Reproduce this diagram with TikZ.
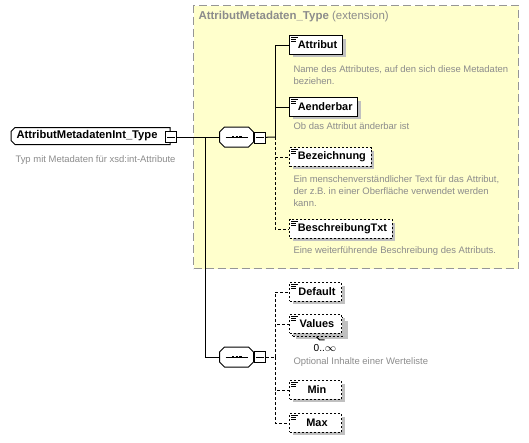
\documentclass[tikz,border=0pt]{standalone}
\usepackage{fontspec}
\setmainfont{Liberation Sans}
\usetikzlibrary{shadows,calc,positioning}

\definecolor{extfill}{RGB}{255,255,204}
\definecolor{extline}{RGB}{150,150,150}
\definecolor{doctext}{RGB}{140,140,140}
\definecolor{shadegray}{RGB}{192,192,192}

\newcommand{\docmark}[1]{%
  \draw[line width=0.75pt] ($(#1.north west)+(2,2.5)$) -- +(7,0)
    ($(#1.north west)+(2,4.5)$) -- +(5,0)
    ($(#1.north west)+(2,6.5)$) -- +(5,0);}
% octagon outline (with shadow) round a named node
\newcommand{\octo}[2]{%
  \foreach \dd/\ff/\dr in {3/shadegray/none,0/white/black}{
  \filldraw[fill=\ff, draw=\dr, shift={(\dd,\dd)}]
    ($(#1.north west)+(#2,0)$) -- ($(#1.north east)+(-#2,0)$) -- ($(#1.north east)+(0,#2)$)
    -- ($(#1.south east)+(0,-#2)$) -- ($(#1.south east)+(-#2,0)$) -- ($(#1.south west)+(#2,0)$)
    -- ($(#1.south west)+(0,-#2)$) -- ($(#1.north west)+(0,#2)$) -- cycle;}}
% left corners cut only
\newcommand{\leftcut}[2]{%
  \foreach \dd/\ff/\dr in {3/shadegray/none,0/white/black}{
  \filldraw[fill=\ff, draw=\dr, shift={(\dd,\dd)}]
    ($(#1.north west)+(#2,0)$) -- (#1.north east) -- (#1.south east)
    -- ($(#1.south west)+(#2,0)$) -- ($(#1.south west)+(0,-#2)$) -- ($(#1.north west)+(0,#2)$) -- cycle;}}
\newcommand{\seqmark}[1]{%
  \draw[line width=0.75pt] ($(#1.west)+(6,0)$) -- ($(#1.east)+(-6,0)$);
  \draw[line width=2.2pt, dash pattern=on 1.6pt off 1.2pt] ($(#1.center)+(-4.5,0)$) -- ($(#1.center)+(5,0)$);}
\newcommand{\minusmark}[1]{%
  \draw[line width=0.75pt] ($(#1.west)+(2,0)$) -- ($(#1.east)+(-2,0)$);}

\begin{document}
\begin{tikzpicture}[x=0.75pt,y=-0.75pt,line width=0.75pt]
\tikzset{
  shade/.style={drop shadow={shadow xshift=2.25pt,shadow yshift=-2.25pt,fill=shadegray,opacity=1}},
  elem/.style={draw, fill=white, shade, anchor=west, font=\fontsize{8.2}{10}\selectfont\bfseries,
    minimum height=14pt, minimum width=39pt, inner xsep=4pt, inner ysep=1pt,
    execute at begin node=\hspace*{2.25pt}},
  optelem/.style={elem, dash pattern=on 1.5pt off 1.5pt},
  docnote/.style={anchor=north west, align=left, inner sep=0pt, text=doctext,
    font=\fontsize{7.1}{9}\selectfont},
  compos/.style={minimum width=24.75pt, minimum height=14.25pt, inner sep=0pt},
  minusbox/.style={draw, fill=white, minimum size=8.25pt, inner sep=0pt},
  link/.style={line width=0.75pt},
  optlink/.style={line width=0.75pt, dash pattern=on 2.25pt off 1.5pt}
}
\useasboundingbox (0,0) rectangle (529,443);

% extension area
\node[draw=extline, fill=extfill, dash pattern=on 6pt off 3pt, anchor=north west,
  minimum width=243.75pt, minimum height=197.25pt, inner sep=0pt] (ext) at (193,5) {};
\node[anchor=north west, inner sep=0pt, text=doctext, font=\fontsize{8.6}{10}\selectfont]
  (exttitle) at (198,11) {\textbf{AttributMetadaten\_Type} (extension)};

% main type
\node[anchor=west, minimum width=118.5pt, minimum height=12pt, inner sep=0pt] (main) at (11,136) {};
\leftcut{main}{4}
\node[anchor=west, inner sep=0pt, font=\fontsize{8.4}{10}\selectfont\bfseries]
  (maintxt) at (16,136) {AttributMetadatenInt\_Type};
\node[minusbox] (mainm) at (171,137) {};
\minusmark{mainm}
\node[docnote] (maindoc) at (15,155) {Typ mit Metadaten für xsd:int-Attribute};

% first sequence
\node[compos] (seqa) at (236.5,137) {};
\octo{seqa}{5}
\seqmark{seqa}
\node[minusbox] (seqam) at (259.5,137.5) {};
\minusmark{seqam}
\coordinate (ja) at (275,137);

\node[elem] (attr) at (289,45) {Attribut};
\docmark{attr}
\node[docnote] (attrdoc) at (293,65) {Name des Attributes, auf den sich diese Metadaten\\beziehen.};
\node[elem] (aend) at (289,107) {Aenderbar};
\docmark{aend}
\node[docnote] (aenddoc) at (293,122) {Ob das Attribut änderbar ist};
\node[optelem] (bez) at (289,157) {Bezeichnung};
\docmark{bez}
\node[docnote] (bezdoc) at (293,175) {Ein menschenverständlicher Text für das Attribut,\\der z.B. in einer Oberfläche verwendet werden\\kann.};
\node[optelem] (besch) at (289,229) {BeschreibungTxt};
\docmark{besch}
\node[docnote] (beschdoc) at (293,246) {Eine weiterführende Beschreibung des Attributs.};

% second sequence
\node[compos] (seqb) at (236.5,357) {};
\octo{seqb}{5}
\seqmark{seqb}
\node[minusbox] (seqbm) at (259.5,357) {};
\minusmark{seqbm}
\coordinate (jb) at (275,357);
\coordinate (jmain) at (205,137);

\node[optelem] (dflt) at (289,292) {Default};
\docmark{dflt}
\node[optelem] (valsbg) at (292,327) {\phantom{Values}};
\node[optelem] (vals) at (289,324) {Values};
\docmark{vals}
\node[inner sep=0pt, font=\fontsize{7.6}{9}\selectfont] (valsocc) at (325,348) {0..$\infty$};
\node[docnote] (valsdoc) at (293,357) {Optional Inhalte einer Werteliste};
\node[optelem] (minv) at (289,390) {Min};
\docmark{minv}
\node[optelem] (maxv) at (289,423) {Max};
\docmark{maxv}

% connectors
\draw[link] (mainm) -- (seqa);
\draw[link] (jmain) |- (seqb);
\draw[link] (seqa) -- (seqam);
\draw[link] (seqam) -- (ja);
\draw[link] (ja) |- (attr);
\draw[link] (ja) |- (aend);
\draw[optlink] (ja) |- (bez);
\draw[optlink] (ja) |- (besch);
\draw[link] (seqb) -- (seqbm);
\draw[optlink] (seqbm) -- (jb);
\draw[optlink] (jb) |- (dflt);
\draw[optlink] (jb) |- (vals);
\draw[optlink] (jb) |- (minv);
\draw[optlink] (jb) |- (maxv);
\draw[link] ($(valsbg.south)+(-2,0)$) -- +(3,3) -- +(8,3);
\end{tikzpicture}
\end{document}
